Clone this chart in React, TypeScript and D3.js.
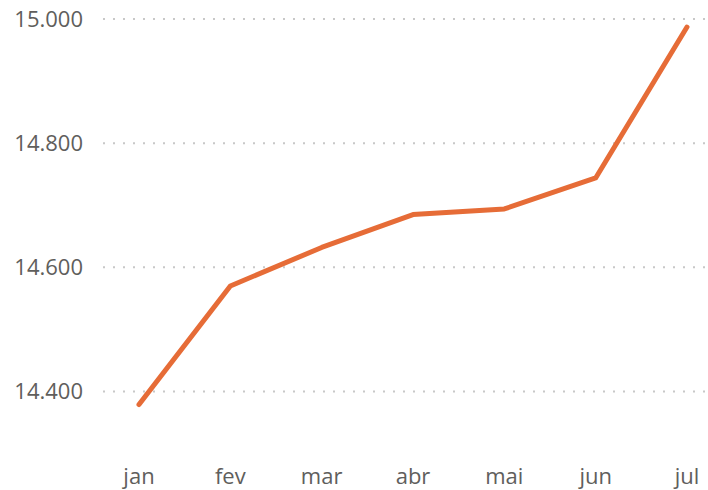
import * as d3 from "d3";
import React from "react";

const months = ["jan", "fev", "mar", "abr", "mai", "jun", "jul"];
const values = [14379, 14570, 14632, 14685, 14694, 14744, 14987];
const yTicks = [14400, 14600, 14800, 15000];

const width = 708;
const height = 490;

const fmt = (v: number) => d3.format(",")(v).replace(/,/g, ".") + (v % 1000 === 0 ? "" : "");

const App = () => {
  const x = d3.scalePoint<string>().domain(months).range([139, 687]);

  const y = d3.scaleLinear().domain([14400, 15000]).range([391.5, 19]);

  const line = d3
    .line<number>()
    .x((_, i) => x(months[i]) as number)
    .y((d) => y(d));

  const font = "'Open Sans', 'Noto Sans', sans-serif";

  return (
    <svg
      width={width}
      height={height}
      style={{ position: "absolute", left: 0, top: 0, background: "#fff" }}
    >
      {/* grid + y labels */}
      {yTicks.map((t) => (
        <g key={t}>
          <line
            x1={103}
            x2={width}
            y1={y(t)}
            y2={y(t)}
            stroke="#c8c8c8"
            strokeWidth={2}
            strokeDasharray="2 8"
          />
          <text
            x={83}
            y={y(t)}
            dy="0.36em"
            textAnchor="end"
            fontFamily={font}
            fontSize={22}
            fill="#605e5c"
          >
            {d3.format(",.3f")(t / 1000).replace(",", "")}
          </text>
        </g>
      ))}

      {/* x labels */}
      {months.map((m) => (
        <text
          key={m}
          x={x(m)}
          y={484}
          textAnchor="middle"
          fontFamily={font}
          fontSize={22}
          fill="#605e5c"
        >
          {m}
        </text>
      ))}

      <path
        d={line(values) ?? ""}
        fill="none"
        stroke="#e66c37"
        strokeWidth={5}
        strokeLinecap="round"
        strokeLinejoin="round"
      />
    </svg>
  );
};

export default App;
